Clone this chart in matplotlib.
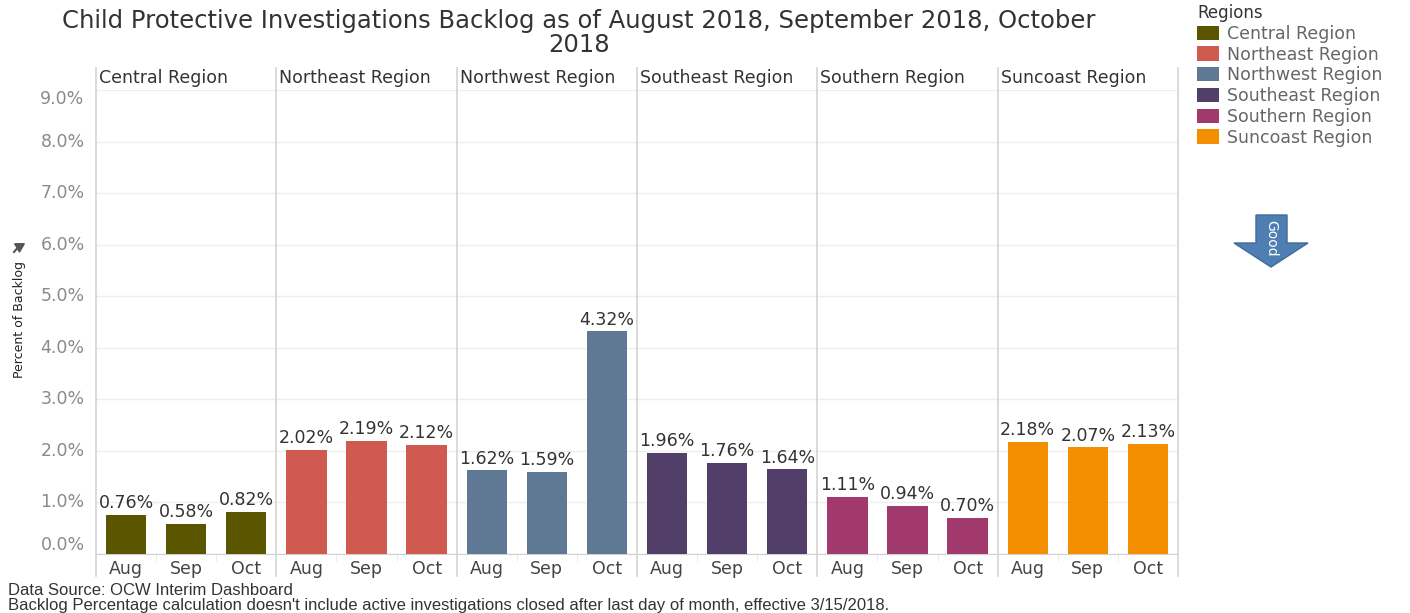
import numpy as np
import matplotlib.pyplot as plt
from matplotlib.patches import Patch, Polygon
from matplotlib.lines import Line2D

regions = ['Central Region', 'Northeast Region', 'Northwest Region',
           'Southeast Region', 'Southern Region', 'Suncoast Region']
months = ['Aug', 'Sep', 'Oct']
central = [0.76, 0.58, 0.82]
northeast = [2.02, 2.19, 2.12]
northwest = [1.62, 1.59, 4.32]
southeast = [1.96, 1.76, 1.64]
southern = [1.11, 0.94, 0.70]
suncoast = [2.18, 2.07, 2.13]
colors = ['#5c5500', '#d15a50', '#5f7894', '#513f69', '#a1396c', '#f28e00']
y_ticks = [0, 1, 2, 3, 4, 5, 6, 7, 8, 9]

values = [central, northeast, northwest, southeast, southern, suncoast]

W, H = 1410, 613
fig = plt.figure(figsize=(W / 100, H / 100), dpi=100)
ax = fig.add_axes([96 / W, 1 - 554 / H, (1178 - 96) / W, (554 - 90) / H])

n = len(months)
for i, (vals, col) in enumerate(zip(values, colors)):
    x = i * n + np.arange(n) + 0.5
    ax.bar(x, vals, width=0.67, color=col, zorder=3)
    for xi, v in zip(x, vals):
        ax.annotate(f'{v:.2f}%', (xi, v), xytext=(0, 2), textcoords='offset points',
                    ha='center', va='bottom', fontsize=12.5, color='#333333')
    ax.text(i * n + 0.05, 1.025, regions[i], transform=ax.get_xaxis_transform(),
            ha='left', va='center', fontsize=12.5, color='#333333')

# panel separators
sep_col = '#d4d4d4'
for i in range(len(regions) + 1):
    ax.axvline(i * n, ymin=-0.047, ymax=1.048, color=sep_col, lw=1.2, clip_on=False, zorder=4)

ax.set_xlim(0, n * len(regions))
ax.set_ylim(0, 9)
ax.set_yticks(y_ticks)
ax.set_yticklabels([])
for t in y_ticks:
    va = 'center'
    if t == 0:
        va = 'bottom'
    elif t == 9:
        va = 'top'
    ax.text(-0.19, t, f'{t:.1f}%', ha='right', va=va, fontsize=12.5, color='#8a8a8a')
ax.tick_params(axis='y', length=0)
ax.grid(axis='y', color='#eeeeee', lw=1, zorder=0)

xs = np.arange(n * len(regions)) + 0.5
ax.set_xticks(xs)
ax.set_xticklabels(months * len(regions), fontsize=12.5, color='#444444')
ax.tick_params(axis='x', length=0, pad=4)
ax.set_xticks([i for i in range(n * len(regions)) if i % n != 0], minor=True)
ax.tick_params(axis='x', which='minor', length=5, color='#e6e6e6')

for s in ['top', 'right', 'left']:
    ax.spines[s].set_visible(False)
ax.spines['bottom'].set_color('#cfcfcf')

# title
fig.text(579 / W, 1 - 33 / H,
         'Child Protective Investigations Backlog as of August 2018, September 2018, October\n2018',
         ha='center', va='center', fontsize=17.5, color='#333333', linespacing=1.05)

# y-axis label with pin icon
fig.text(20 / W, 1 - 320 / H, 'Percent of Backlog', rotation=90, ha='center', va='center',
         fontsize=9, color='#222222',
         family=['Liberation Sans Narrow', 'DejaVu Sans'])
fig.add_artist(Line2D([19 / W], [1 - 246 / H], marker=(3, 0, 60), markersize=8,
                      color='#555555', transform=fig.transFigure))
fig.add_artist(Line2D([14 / W, 20 / W], [1 - 252 / H, 1 - 245 / H], color='#555555',
                      lw=1.5, transform=fig.transFigure))

# legend
handles = [Patch(facecolor=c, edgecolor='none') for c in colors]
leg = fig.legend(handles, regions, loc='upper left', bbox_to_anchor=(1190 / W, 1 + 3 / H),
                 title='Regions', frameon=False, fontsize=12.5, title_fontsize=12,
                 handlelength=1.25, handleheight=0.9, labelspacing=0.16, handletextpad=0.5,
                 borderaxespad=0)
leg._legend_box.align = 'left'
leg.get_title().set_color('#333333')
for t in leg.get_texts():
    t.set_color('#666666')

# "Good" arrow
arrow_px = [(1256, 215), (1287, 215), (1287, 243), (1308, 243), (1271, 267),
            (1234, 243), (1256, 243)]
fig.add_artist(Polygon([(x / W, 1 - y / H) for x, y in arrow_px], closed=True,
                       facecolor='#4f7fb2', edgecolor='#3f6a96', lw=1,
                       transform=fig.transFigure))
fig.text(1271 / W, 1 - 238 / H, 'Good', rotation=-90, ha='center', va='center',
         fontsize=10, color='white')

# footnotes
fig.text(8 / W, 1 - 598 / H,
         "Data Source: OCW Interim Dashboard\n"
         "Backlog Percentage calculation doesn't include active investigations closed after last day of month, effective 3/15/2018.",
         ha='left', va='center', fontsize=12, color='#333333', family='Liberation Sans',
         linespacing=0.95)

fig.savefig('out.png', dpi=100)
